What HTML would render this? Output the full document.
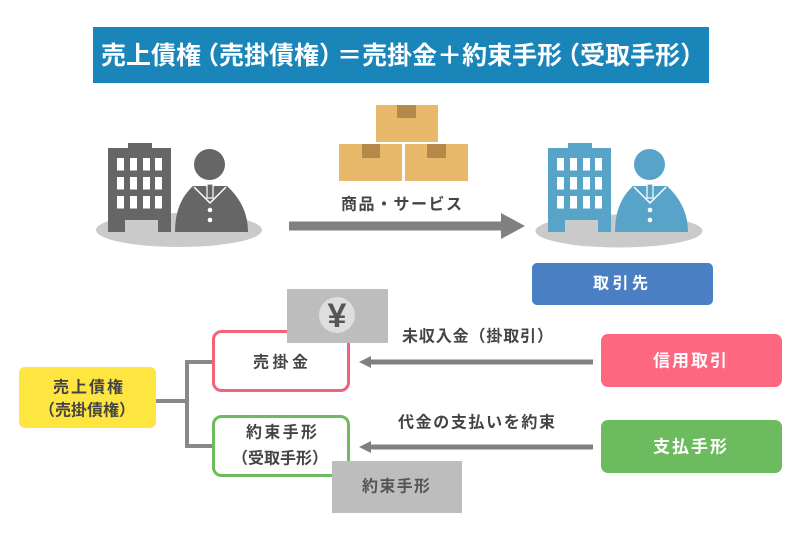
<!DOCTYPE html>
<html><head><meta charset="utf-8"><style>
html,body{margin:0;padding:0;background:#fff;}
svg{display:block;}
text{font-family:"Liberation Sans","Noto Sans CJK JP",sans-serif;font-weight:bold;dominant-baseline:central;}
</style></head><body>
<svg width="800" height="533" viewBox="0 0 800 533" xmlns="http://www.w3.org/2000/svg">
<rect width="800" height="533" fill="#fff"/>
<!-- title -->
<rect x="93" y="27" width="616" height="56" fill="#1a85b8"/>
<text x="101" y="56" font-size="25" fill="#fff">売上債権<tspan dx="-7">（</tspan>売掛債権）<tspan dx="-7">＝</tspan>売掛金＋約束手形<tspan dx="-7">（</tspan>受取手形）</text>

<!-- left figure -->
<ellipse cx="179" cy="230" rx="83" ry="17" fill="#cacaca"/>
<path d="M108,148 H128 V143 H152 V148 H171 V232 H158 V220 H125 V232 H108 Z" fill="#666"/>
<g fill="#fff">
<rect x="117" y="158" width="7" height="12.5"/><rect x="130" y="158" width="7" height="12.5"/><rect x="143" y="158" width="7" height="12.5"/><rect x="155" y="158" width="7" height="12.5"/>
<rect x="117" y="177" width="7" height="12.5"/><rect x="130" y="177" width="7" height="12.5"/><rect x="143" y="177" width="7" height="12.5"/><rect x="155" y="177" width="7" height="12.5"/>
<rect x="117" y="196" width="7" height="12.5"/><rect x="130" y="196" width="7" height="12.5"/><rect x="143" y="196" width="7" height="12.5"/><rect x="155" y="196" width="7" height="12.5"/>
</g>
<circle cx="209.5" cy="164.5" r="15.5" fill="#666"/>
<path d="M175,232 C175,212 181,197 193,186 L210,186 L227,186 C239,197 248,212 248,232 Z" fill="#666"/>
<path d="M194,187 L210,203 L226,187" fill="none" stroke="#fff" stroke-width="1.5"/>
<rect x="207" y="184" width="6" height="14" fill="#666" stroke="#fff" stroke-width="1.2"/>
<circle cx="210" cy="210" r="2.3" fill="#fff"/><circle cx="210" cy="220" r="2.3" fill="#fff"/>

<!-- right figure -->
<ellipse cx="619" cy="231" rx="83.5" ry="16.5" fill="#cacaca"/>
<path d="M548,148 H568 V143 H592 V148 H611 V232 H598 V220 H565 V232 H548 Z" fill="#58a4c8"/>
<g fill="#fff">
<rect x="557" y="158" width="7" height="12.5"/><rect x="570" y="158" width="7" height="12.5"/><rect x="583" y="158" width="7" height="12.5"/><rect x="595" y="158" width="7" height="12.5"/>
<rect x="557" y="177" width="7" height="12.5"/><rect x="570" y="177" width="7" height="12.5"/><rect x="583" y="177" width="7" height="12.5"/><rect x="595" y="177" width="7" height="12.5"/>
<rect x="557" y="196" width="7" height="12.5"/><rect x="570" y="196" width="7" height="12.5"/><rect x="583" y="196" width="7" height="12.5"/><rect x="595" y="196" width="7" height="12.5"/>
</g>
<circle cx="649.5" cy="164.5" r="15.5" fill="#58a4c8"/>
<path d="M615,232 C615,212 621,197 633,186 L650,186 L667,186 C679,197 688,212 688,232 Z" fill="#58a4c8"/>
<path d="M634,187 L650,203 L666,187" fill="none" stroke="#fff" stroke-width="1.5"/>
<rect x="647" y="184" width="6" height="14" fill="#58a4c8" stroke="#fff" stroke-width="1.2"/>
<circle cx="650" cy="210" r="2.3" fill="#fff"/><circle cx="650" cy="220" r="2.3" fill="#fff"/>

<!-- goods boxes -->
<rect x="376" y="105" width="62" height="37" fill="#e9b96b"/>
<rect x="397" y="105" width="19" height="13" fill="#b5894a"/>
<rect x="339" y="144" width="63" height="37" fill="#e9b96b"/>
<rect x="362" y="144" width="18" height="14" fill="#b5894a"/>
<rect x="405" y="144" width="63" height="37" fill="#e9b96b"/>
<rect x="427" y="144" width="19" height="14" fill="#b5894a"/>

<text x="341" y="205" font-size="16" fill="#444" textLength="121">商品・サービス</text>
<rect x="289" y="221.5" width="214" height="9" fill="#808080"/>
<polygon points="501,213 525,226 501,239" fill="#808080"/>

<!-- 取引先 -->
<rect x="532" y="263" width="181" height="42" rx="5" fill="#4a80c3"/>
<text x="593" y="284" font-size="16" fill="#fff" textLength="55">取引先</text>

<!-- connectors -->
<path d="M156,401 H187 M212,362 H187 V446 H212" fill="none" stroke="#888" stroke-width="4"/>

<!-- yellow -->
<rect x="19" y="367" width="137" height="61" rx="6" fill="#ffe540"/>
<text x="53" y="388" font-size="16" fill="#444" textLength="70">売上債権</text>
<text x="87" y="411" font-size="16" fill="#444" text-anchor="middle">（売掛債権）</text>

<!-- red outlined box -->
<rect x="213.5" y="331.5" width="135" height="59" rx="8" fill="#fff" stroke="#f2627a" stroke-width="3"/>
<text x="253" y="363" font-size="16" fill="#444" textLength="55">売掛金</text>
<rect x="287" y="289" width="101" height="54" fill="#bdbdbd"/>
<circle cx="337" cy="315" r="18" fill="#dedede"/>
<text x="337" y="316" font-size="34" fill="#555" text-anchor="middle">¥</text>

<!-- green outlined box -->
<rect x="213.5" y="416.5" width="135" height="59" rx="8" fill="#fff" stroke="#6dbb5d" stroke-width="3"/>
<text x="246" y="433" font-size="16" fill="#444" textLength="71">約束手形</text>
<text x="280" y="459" font-size="16" fill="#444" text-anchor="middle">（受取手形）</text>
<rect x="332" y="461" width="130" height="52" fill="#bdbdbd"/>
<text x="362" y="487" font-size="16" fill="#555" textLength="68">約束手形</text>

<!-- arrows -->
<text x="402" y="337" font-size="16" fill="#444" textLength="151">未収入金（掛取引）</text>
<rect x="369" y="359.5" width="224" height="5" fill="#808080"/>
<polygon points="359,362 371,356 371,368" fill="#808080"/>
<text x="398" y="423" font-size="16" fill="#444" textLength="157">代金の支払いを約束</text>
<rect x="369" y="444.5" width="224" height="5" fill="#808080"/>
<polygon points="359,447 371,441 371,453" fill="#808080"/>

<!-- right boxes -->
<rect x="601" y="334" width="181" height="53" rx="7" fill="#fe6780"/>
<text x="653" y="361" font-size="17" fill="#fff" textLength="74">信用取引</text>
<rect x="601" y="420" width="181" height="53" rx="7" fill="#6cbb5e"/>
<text x="653" y="447" font-size="17" fill="#fff" textLength="74">支払手形</text>
</svg>
</body></html>
